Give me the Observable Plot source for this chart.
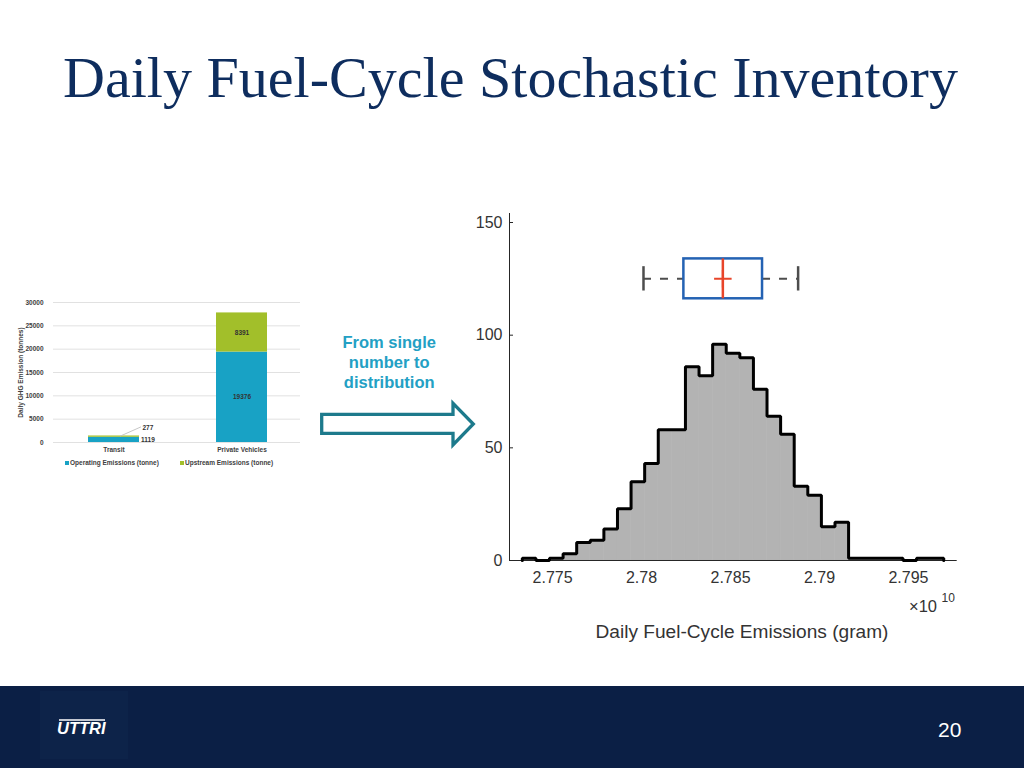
<!DOCTYPE html>
<html>
<head>
<meta charset="utf-8">
<script src="https://cdn.jsdelivr.net/npm/d3@7"></script>
<script src="https://cdn.jsdelivr.net/npm/@observablehq/plot@0.6"></script>
<style>
  html, body { margin: 0; padding: 0; background: #fff; }
  #page { position: relative; width: 1024px; height: 768px; overflow: hidden; background: #fff; font-family: "Liberation Sans", Arial, sans-serif; }
  #page svg.abs { position: absolute; }
  .legend { position: absolute; top: 459px; font: bold 6.5px "Liberation Sans", Arial, sans-serif; color: #404040; white-space: nowrap; display: flex; align-items: center; }
  .legend .sw { display: inline-block; width: 4px; height: 4px; margin-right: 1px; }
</style>
</head>
<body>
<div id="page">
  <svg id="bg" class="abs" width="1024" height="768" style="left:0;top:0">
    <rect x="0" y="686" width="1024" height="82" fill="#0b1f45"></rect>
    <rect x="40" y="691" width="88" height="68" fill="#0d2349"></rect>
    <line x1="59" y1="720" x2="105" y2="720" stroke="#ffffff" stroke-width="1.6"></line>
    <text x="57" y="733.5" fill="#ffffff" font-family="Liberation Sans, Arial" font-weight="bold" font-style="italic" font-size="16.5">UTTRI</text>
    <text x="949.7" y="736.7" fill="#ffffff" text-anchor="middle" font-family="Liberation Sans, Arial" font-size="21">20</text>
    <text id="title" x="63" y="96.7" fill="#0e2d5e" font-family="Liberation Serif, serif" font-size="58">Daily Fuel-Cycle Stochastic Inventory</text>
    <polygon points="321.7,414.3 453,414.3 453,403.3 473.3,424 453,445 453,433.3 321.7,433.3" fill="#ffffff" stroke="#1d7a8c" stroke-width="3.3" stroke-linejoin="miter"></polygon>
    <g font-family="Liberation Sans, Arial" font-weight="bold" font-size="16.5" fill="#23a0c4" text-anchor="middle">
      <text x="389.2" y="347.7">From single</text>
      <text x="389.2" y="367.9">number to</text>
      <text x="389.2" y="388.3">distribution</text>
    </g>
    <text id="xlabel" x="742" y="638" text-anchor="middle" fill="#333333" font-family="Liberation Sans, Arial" font-size="19">Daily Fuel-Cycle Emissions (gram)</text>
    <text x="909" y="611.7" fill="#333333" font-family="Liberation Sans, Arial" font-size="16.5">×10</text>
    <text x="941.5" y="602" fill="#333333" font-family="Liberation Sans, Arial" font-size="12">10</text>
  </svg>
  <div class="legend" style="left:65px"><span class="sw" id="sw0"></span><span id="lg0"></span></div>
  <div class="legend" style="left:180px"><span class="sw" id="sw1"></span><span id="lg1"></span></div>
</div>
<script>
// ---------------- Data: left bar chart ----------------
const categories = ["Transit", "Private Vehicles"];
const operatingEmissions = [1119, 19376];
const upstreamEmissions = [277, 8391];
const seriesNames = ["Operating Emissions (tonne)", "Upstream Emissions (tonne)"];
const seriesColors = ["#18a2c5", "#a2bf2a"];
const barYTicks = [0, 5000, 10000, 15000, 20000, 25000, 30000];
const barYLabel = "Daily GHG Emission (tonnes)";

// ---------------- Data: histogram ----------------
const binStart = 2.7733;      // x 10^10 gram
const binWidth = 0.000764;
const binCounts = [1, 0, 1, 3, 8, 9, 14, 23, 35, 43, 58, 58, 86, 82, 96, 92, 90, 76, 64, 56, 33, 29, 15, 17, 1, 1, 1, 1, 0, 1, 1];
const histXTicks = [2.775, 2.78, 2.785, 2.79, 2.795];
const histYTicks = [0, 50, 100, 150];
const histXDomain = [2.77258, 2.79774];
const histYDomain = [0, 154];

// box plot summary (x 10^10 gram)
const boxStatNames = ["whiskerLow", "q1", "median", "q3", "whiskerHigh"];
const boxStatValues = [2.78011, 2.78238, 2.78457, 2.78680, 2.78880];
const boxCenterY = 125, boxHalf = 8.85, capHalf = 5.4;

// ---------------- Title fit ----------------
(function fitTitle() {
  const t = document.getElementById("title");
  const w = t.getComputedTextLength();
  if (w > 0) t.setAttribute("font-size", (58 * 895 / w).toFixed(2));
  const xl = document.getElementById("xlabel");
  const w2 = xl.getComputedTextLength();
  if (w2 > 0) xl.setAttribute("font-size", (19 * 293 / w2).toFixed(2));
})();

const page = document.getElementById("page");

// ---------------- Bar chart ----------------
const barRows = [];
categories.forEach((c, i) => {
  barRows.push({category: c, type: seriesNames[0], value: operatingEmissions[i]});
  barRows.push({category: c, type: seriesNames[1], value: upstreamEmissions[i]});
});
const privateRows = barRows.filter(d => d.category === categories[1]);
const transitOp = barRows.filter(d => d.category === categories[0] && d.type === seriesNames[0]);
const transitUp = barRows.filter(d => d.category === categories[0] && d.type === seriesNames[1]);
const transitTotal = operatingEmissions[0] + upstreamEmissions[0];

const leader = {draw(ctx, l) { ctx.moveTo(0, 0); ctx.lineTo(0, -l); }};

const bar = Plot.plot({
  width: 310, height: 165,
  marginTop: 7, marginBottom: 18, marginLeft: 49, marginRight: 4,
  style: {fontFamily: "Liberation Sans, Arial, sans-serif", fontSize: "6.5px", fontWeight: "bold", color: "#404040", background: "transparent", overflow: "visible"},
  x: {domain: categories, paddingInner: 0.6, paddingOuter: 0.3},
  y: {domain: [0, 30000]},
  color: {domain: seriesNames, range: seriesColors},
  marks: [
    Plot.ruleY(barYTicks, {stroke: "#d9d9d9", strokeWidth: 0.8, insetLeft: 4, insetRight: 6}),
    Plot.barY(barRows, Plot.stackY({x: "category", y: "value", fill: "type", inset: 0})),
    Plot.text(privateRows, Plot.stackY({x: "category", y: "value", text: d => String(d.value), fill: "#333", fontSize: 6.5})),
    Plot.text(transitOp, {x: "category", y: d => d.value / 2, text: d => String(d.value), textAnchor: "start", dx: 27, fill: "#333"}),
    Plot.text(transitUp, {x: "category", y: () => transitTotal, text: d => String(d.value), textAnchor: "start", dx: 28.5, dy: -8, fill: "#333"}),
    Plot.vector(transitUp, {x: "category", y: () => transitTotal, dx: 6.5, rotate: 66, length: 22, anchor: "start", shape: leader, stroke: "#bfbfbf", strokeWidth: 0.8}),
    Plot.axisY({ticks: barYTicks, tickSize: 0, tickPadding: 6, tickFormat: d3.format("d"), label: barYLabel, labelAnchor: "center", labelOffset: 31, labelArrow: "none"}),
    Plot.axisX({tickSize: 0, tickPadding: 5, label: null})
  ]
});
bar.classList.add("abs");
bar.style.left = "0px";
bar.style.top = "295px";
page.appendChild(bar);

[0, 1].forEach(i => {
  document.getElementById("sw" + i).style.background = seriesColors[i];
  document.getElementById("lg" + i).textContent = seriesNames[i];
});

// ---------------- Histogram with box plot ----------------
const bins = binCounts.map((c, i) => ({x1: binStart + i * binWidth, x2: binStart + (i + 1) * binWidth, count: c}));
const last = bins[bins.length - 1];
const outline = [{x: bins[0].x1, y: 0}]
  .concat(bins.map(b => ({x: b.x1, y: b.count})))
  .concat([{x: last.x2, y: last.count}, {x: last.x2, y: 0}]);

const S = Object.fromEntries(boxStatNames.map((n, i) => [n, boxStatValues[i]]));
const whiskers = [{a: S.whiskerLow, b: S.q1}, {a: S.q3, b: S.whiskerHigh}];
const fmtX = d => String(+d.toFixed(3));

const hist = Plot.plot({
  width: 520, height: 450,
  marginLeft: 49, marginRight: 23.3, marginTop: 13, marginBottom: 90,
  style: {fontFamily: "Liberation Sans, Arial, sans-serif", fontSize: "16px", color: "#333333", background: "transparent", overflow: "visible"},
  x: {domain: histXDomain},
  y: {domain: histYDomain},
  marks: [
    Plot.rectY(bins, {x1: "x1", x2: "x2", y: "count", fill: "#b3b3b3", stroke: "#b3b3b3", strokeWidth: 0.6}),
    Plot.ruleY([0], {stroke: "#262626", strokeWidth: 1}),
    Plot.ruleX([histXDomain[0]], {stroke: "#262626", strokeWidth: 1}),
    Plot.line(outline, {x: "x", y: "y", curve: "step-after", stroke: "#000000", strokeWidth: 3, strokeLinejoin: "miter"}),
    Plot.axisY({ticks: histYTicks, tickSize: 0, tickPadding: 7, label: null, fontSize: 16}),
    Plot.axisY({ticks: histYTicks, tickSize: 4, dx: 4, tickFormat: () => "", label: null, stroke: "#262626"}),
    Plot.axisX({ticks: histXTicks, tickSize: 0, tickPadding: 11, tickFormat: fmtX, label: null, fontSize: 16}),
    // box plot
    Plot.ruleY(whiskers, {x1: "a", x2: "b", y: () => boxCenterY, stroke: "#4d4d4d", strokeWidth: 2, strokeDasharray: "8,9"}),
    Plot.ruleX([S.whiskerLow, S.whiskerHigh], {y1: boxCenterY - capHalf, y2: boxCenterY + capHalf, stroke: "#4d4d4d", strokeWidth: 2.5}),
    Plot.rect([S], {x1: "q1", x2: "q3", y1: () => boxCenterY - boxHalf, y2: () => boxCenterY + boxHalf, fill: "none", stroke: "#2462b3", strokeWidth: 2.5}),
    Plot.ruleX([S.median], {y1: boxCenterY - boxHalf, y2: boxCenterY + boxHalf, stroke: "#e8452a", strokeWidth: 2.5}),
    Plot.dot([S.median], {x: d => d, y: () => boxCenterY, symbol: "plus", r: 5.7, stroke: "#e8452a", strokeWidth: 2})
  ]
});
hist.classList.add("abs");
hist.style.left = "460px";
hist.style.top = "200px";
page.appendChild(hist);
</script>
</body>
</html>
